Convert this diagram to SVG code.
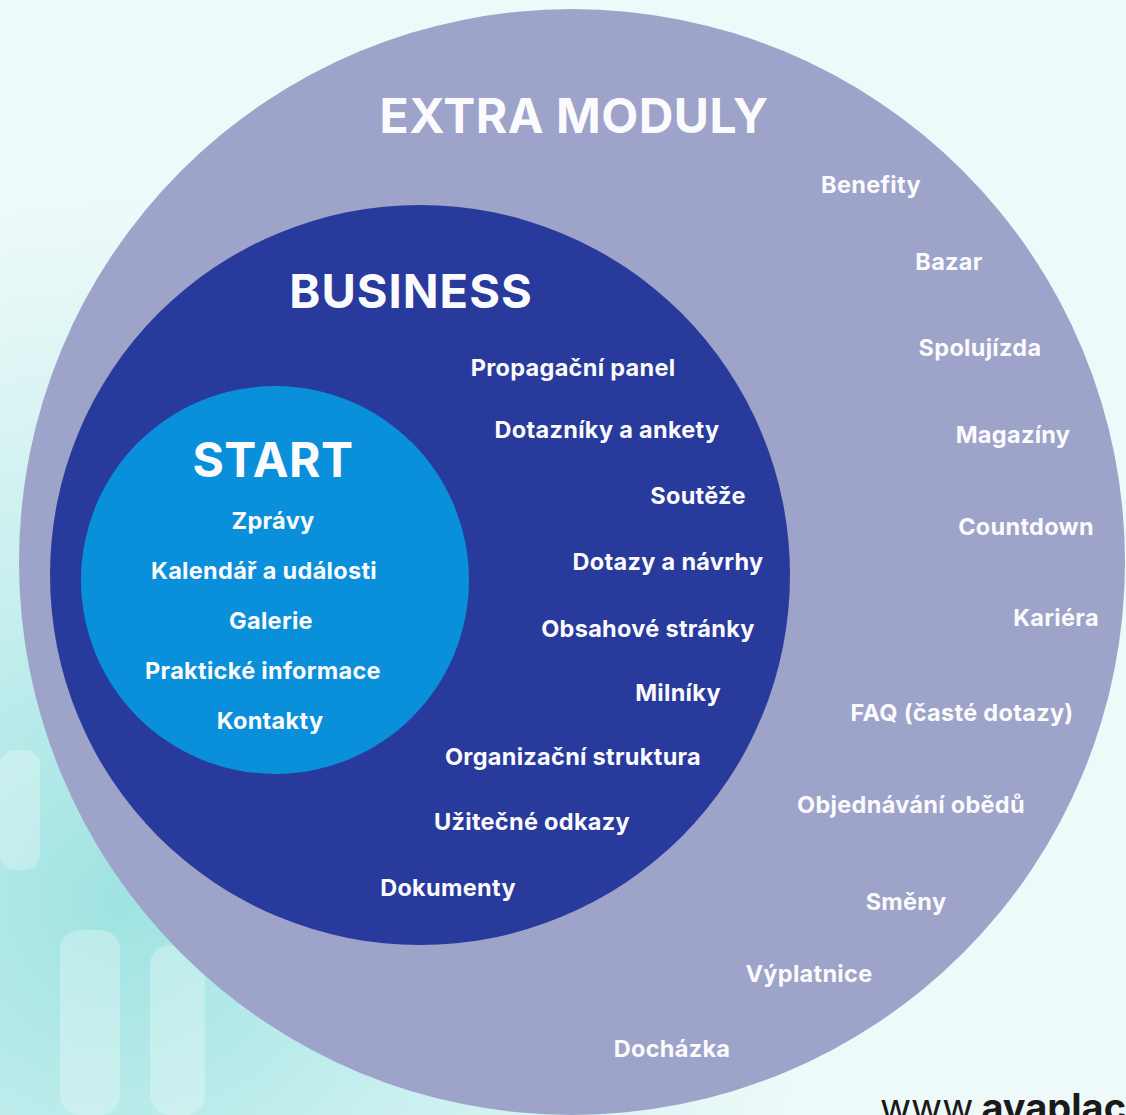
<svg xmlns="http://www.w3.org/2000/svg" width="1126" height="1115" viewBox="0 0 1126 1115">
  <defs>
    <radialGradient id="bg" cx="120" cy="900" r="700" gradientUnits="userSpaceOnUse">
      <stop offset="0" stop-color="#9fe3e2"/>
      <stop offset="0.45" stop-color="#c6efee"/>
      <stop offset="1" stop-color="#eefaf9"/>
    </radialGradient>
    <style>
      .t { font-family: Inter, "Liberation Sans", sans-serif; font-weight: 700; fill: #fbfbfd; text-anchor: middle; }
      .h1 { font-size: 48px; letter-spacing: 0.5px; }
      .h2 { font-size: 47px; letter-spacing: 1px; }
      .it { font-size: 23.5px; letter-spacing: 0.3px; }
      .ring-extra { fill: #9da3c9; }
      .ring-business { fill: #283a9b; }
      .ring-start { fill: #0a8fda; }
    </style>
  </defs>
  <rect width="1126" height="1115" fill="url(#bg)"/>
  <g opacity="0.28" fill="#ffffff">
    <rect x="60" y="930" width="60" height="185" rx="20"/>
    <rect x="150" y="945" width="55" height="170" rx="20"/>
    <rect x="0" y="750" width="40" height="120" rx="15"/>
  </g>

  <g id="extra-moduly">
    <circle class="ring-extra" cx="572" cy="562" r="553"/>
    <text class="t h1" x="574" y="133">EXTRA MODULY</text>
    <text class="t it" x="871" y="193">Benefity</text>
    <text class="t it" x="949" y="270">Bazar</text>
    <text class="t it" x="980" y="356">Spolujízda</text>
    <text class="t it" x="1013" y="443">Magazíny</text>
    <text class="t it" x="1026" y="535">Countdown</text>
    <text class="t it" x="1056" y="626">Kariéra</text>
    <text class="t it" x="962" y="721">FAQ (časté dotazy)</text>
    <text class="t it" x="911" y="813">Objednávání obědů</text>
    <text class="t it" x="906" y="910">Směny</text>
    <text class="t it" x="809" y="982">Výplatnice</text>
    <text class="t it" x="672" y="1057">Docházka</text>
  </g>

  <g id="business">
    <circle class="ring-business" cx="420" cy="575" r="370"/>
    <text class="t h2" x="411" y="308">BUSINESS</text>
    <text class="t it" x="573" y="376">Propagační panel</text>
    <text class="t it" x="607" y="438">Dotazníky a ankety</text>
    <text class="t it" x="698" y="504">Soutěže</text>
    <text class="t it" x="668" y="570">Dotazy a návrhy</text>
    <text class="t it" x="648" y="637">Obsahové stránky</text>
    <text class="t it" x="678" y="701">Milníky</text>
    <text class="t it" x="573" y="765">Organizační struktura</text>
    <text class="t it" x="532" y="830">Užitečné odkazy</text>
    <text class="t it" x="448" y="896">Dokumenty</text>
  </g>

  <g id="start">
    <circle class="ring-start" cx="275" cy="580" r="194"/>
    <text class="t h1" x="273" y="477">START</text>
    <text class="t it" x="273" y="529">Zprávy</text>
    <text class="t it" x="264" y="579">Kalendář a události</text>
    <text class="t it" x="271" y="629">Galerie</text>
    <text class="t it" x="263" y="679">Praktické informace</text>
    <text class="t it" x="270" y="729">Kontakty</text>
  </g>

  <g id="connectors"/>

  <text x="880" y="1121" font-family="Inter, 'Liberation Sans', sans-serif" font-size="38" fill="#1a1a1a"><tspan font-weight="400">www.</tspan><tspan font-weight="700">avaplace.cz</tspan></text>
</svg>
